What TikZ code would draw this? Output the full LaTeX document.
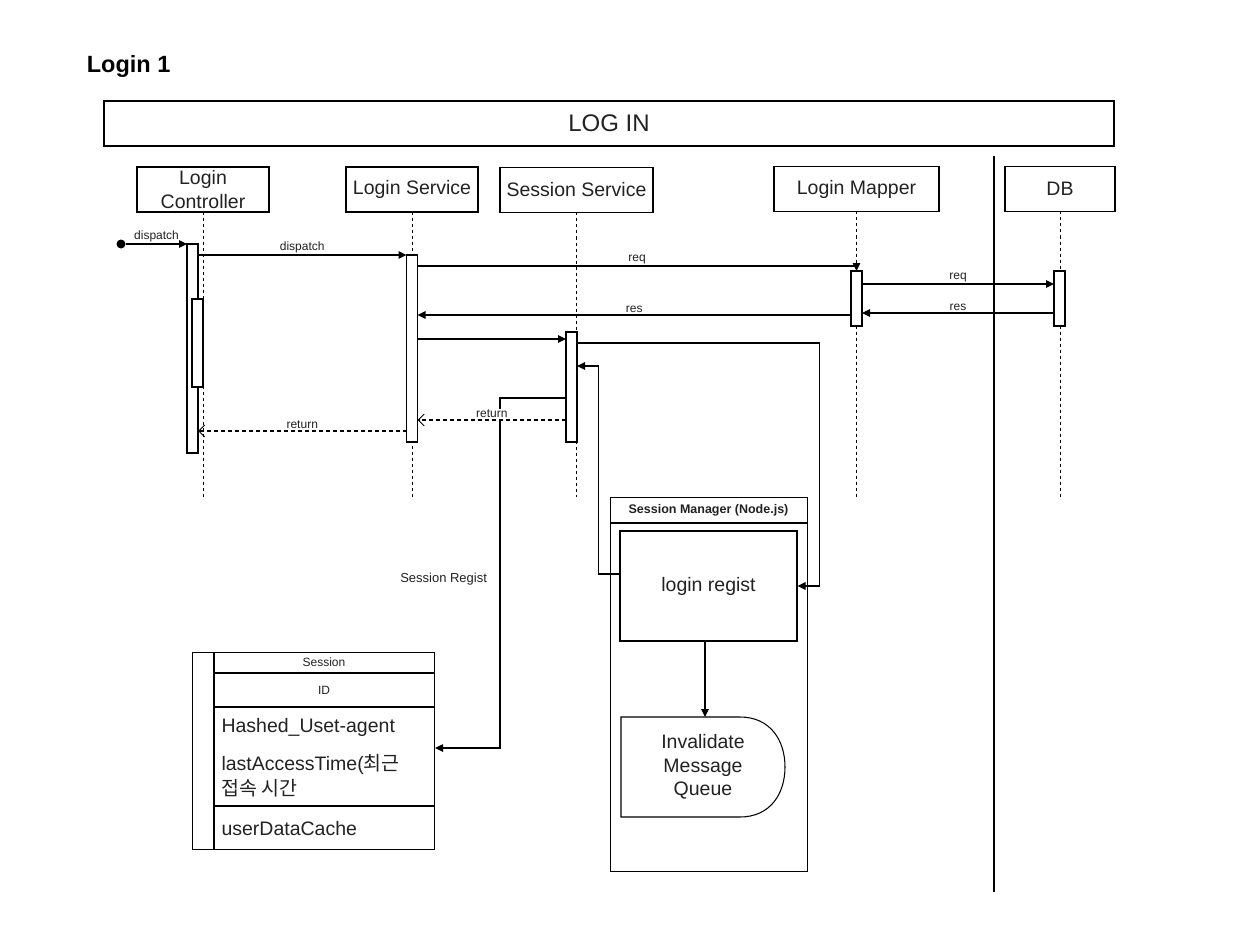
\documentclass[tikz,border=0pt]{standalone}
\usepackage{fontspec}
\setmainfont{Liberation Sans}
\newfontfamily\krfont{Noto Sans CJK KR}
\usetikzlibrary{arrows.meta}
\definecolor{ink}{HTML}{222222}

\begin{document}
\begin{tikzpicture}[x=1pt,y=-1pt,line width=1.05pt,
  head/.style={draw,fill=white,inner sep=0,outer sep=0,minimum height=45pt,
    align=center,text=ink,font=\fontsize{19.5}{24}\selectfont},
  bar/.style={draw,fill=white,inner sep=0,outer sep=0,minimum width=11pt},
  life/.style={line width=1pt,dash pattern=on 3pt off 3pt},
  msg/.style={-{Triangle[length=8pt,width=7.5pt]}},
  ret/.style={dash pattern=on 4pt off 3pt,-{Straight Barb[length=6pt,width=12pt,line width=1pt]}},
  lbl/.style={text=ink,inner sep=1.5pt,font=\fontsize{12}{14}\selectfont},
  big/.style={text=ink,font=\fontsize{19.5}{24}\selectfont}]

\fill[white] (0,0) rectangle (1234,936);
\useasboundingbox (0,0) rectangle (1234,936);

% title and frame
\node[anchor=base west,font=\bfseries\fontsize{23.5}{28}\selectfont] (title) at (83,73) {Login 1};
\node[draw,minimum width=1010pt,minimum height=45pt,inner sep=0,text=ink,
  font=\fontsize{24}{28}\selectfont] (frame) at (609,123.5) {LOG IN};
\draw (994,156) -- (994,892);

% participants
\node[head,minimum width=132pt] (lc) at (203,189.5) {Login\\Controller};
\node[head,minimum width=132pt] (ls) at (412,189.5) {Login Service};
\node[head,minimum width=153pt] (ss) at (576.5,190) {Session Service};
\node[head,minimum width=165pt] (lm) at (856.5,189) {Login Mapper};
\node[head,minimum width=110pt] (db) at (1060,189) {DB};

\foreach \n in {lc,ls,ss,lm,db}
  \draw[life] (\n.south) -- (\n.south |- 0,497);

% activations
\node[bar,minimum height=209pt] (lcBar) at (192.5,348.5) {};
\node[bar,minimum height=88pt] (lcBar2) at (197.5,343) {};
\node[bar,minimum height=187pt] (lsBar) at (412,348.5) {};
\node[bar,minimum height=110pt] (ssBar) at (571.5,387) {};
\node[bar,minimum height=55pt] (lmBar) at (856.5,298.5) {};
\node[bar,minimum height=55pt] (dbBar) at (1059.5,298.5) {};

% messages
\node[circle,fill=black,inner sep=0,minimum size=9pt] (start) at (121,244) {};
\draw[msg] (start) -- (lcBar.north west) node[lbl,midway,above] {dispatch};
\draw[msg] (lcBar.east |- 0,255) -- (lsBar.west |- 0,255) node[lbl,midway,above] {dispatch};
\draw[msg] (lsBar.east |- 0,266) -| (lmBar.north) node[lbl,pos=.25,above] {req};
\draw[msg] (lmBar.west |- 0,315) -- (lsBar.east |- 0,315) node[lbl,midway,above] {res};
\draw[msg] (lmBar.east |- 0,284) -- (dbBar.west |- 0,284) node[lbl,midway,above] {req};
\draw[msg] (dbBar.west |- 0,313) -- (lmBar.east |- 0,313) node[lbl,midway,above] {res};
\draw[msg] (lsBar.east |- 0,339) -- (ssBar.west |- 0,339);

% session manager
\node[draw,anchor=north west,minimum width=197pt,minimum height=374pt,inner sep=0] (mgr) at (610,497) {};
\draw (mgr.west |- 0,523) -- (mgr.east |- 0,523);
\node[text=ink,font=\bfseries\fontsize{12.5}{14}\selectfont] (mgrTitle) at (708.5,510) {Session Manager (Node.js)};
\node[draw,minimum width=177pt,minimum height=110pt,inner sep=0,big] (regist) at (708.5,586) {login regist};
\draw (621,717) -- (740,717) .. controls (770,717) and (785,740) .. (785,767)
  .. controls (785,794) and (770,817) .. (740,817) -- (621,817) -- cycle;
\node[big,align=center,font=\fontsize{19.5}{23.5}\selectfont] (queue) at (703,767) {Invalidate\\Message\\Queue};
\coordinate (queueTop) at (705,717);
\draw[msg] (regist.south -| queueTop) -- (queueTop);

\draw[msg] (ssBar.east |- 0,343) -| ([xshift=22pt]regist.east) -- (regist.east);
\draw[msg] (regist.west |- 0,574) -- ++(-21,0) |- (ssBar.east |- 0,366);

% session table
\node[draw,anchor=north west,minimum width=242pt,minimum height=197pt,inner sep=0] (tab) at (192,652) {};
\draw (214,652) -- (214,849);
\draw[line width=2pt] (214,673) -- (434,673);
\draw (214,707) -- (434,707);
\draw (214,806) -- (434,806);
\node[lbl] (tabHead) at (324,662) {Session};
\node[lbl] (tabId) at (324,690) {ID};
\node[big,anchor=base west,inner sep=0] (f1) at (221,732) {Hashed\_Uset-agent};
\node[big,anchor=base west,inner sep=0] (f2) at (221,770) {lastAccessTime({\krfont 최근}};
\node[big,anchor=base west,inner sep=0] (f3) at (221,795) {\krfont 접속 시간};
\node[big,anchor=base west,inner sep=0] (f4) at (221,835) {userDataCache};

\draw[msg] (ssBar.west |- 0,398) -- (500,398) |- (tab.east |- 0,748);
\node[lbl,anchor=east,font=\fontsize{13}{15}\selectfont] (regLbl) at (489,579) {Session Regist};

% replies
\draw[ret] (ssBar.west |- 0,420) -- (lsBar.east |- 0,420) node[lbl,midway,above,fill=white] {return};
\draw[ret] (lsBar.west |- 0,431) -- (lcBar.east |- 0,431) node[lbl,midway,above] {return};
\end{tikzpicture}
\end{document}
